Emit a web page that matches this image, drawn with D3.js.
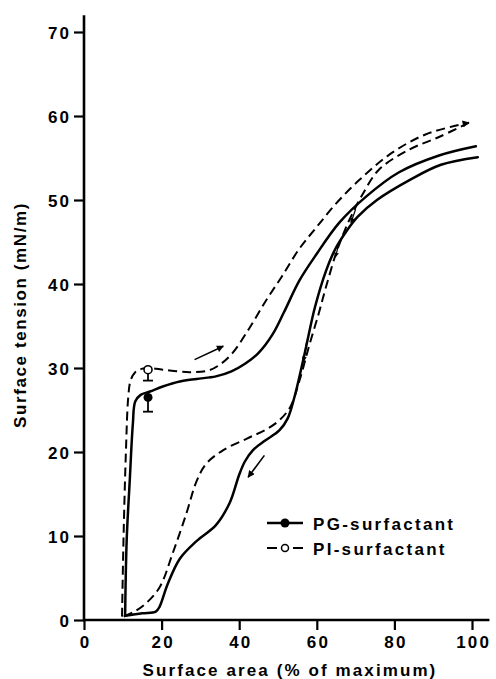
<!DOCTYPE html>
<html>
<head>
<meta charset="utf-8">
<script src="https://cdn.jsdelivr.net/npm/d3@7"></script>
<style>
  html, body { margin: 0; padding: 0; background: #fff; }
  svg { display: block; }
  text { font-family: "Liberation Sans", Arial, Helvetica, sans-serif; font-weight: bold; fill: #000; }
</style>
</head>
<body>
<svg id="chart" width="496" height="679"></svg>
<script>
// ---------------- data ----------------
const xTicks = [0, 20, 40, 60, 80, 100];
const yTicks = [0, 10, 20, 30, 40, 50, 60, 70];
const xTitle = "Surface area (% of maximum)";
const yTitle = "Surface tension (mN/m)";
const seriesNames = ["PG-surfactant", "PI-surfactant"];

// PG-surfactant (solid): compression branch (from max area down to min)
const pgCompression = [
  [101.5, 55.1], [92, 54.2], [84, 52.4], [75.5, 50.0], [70.5, 48.0], [67.5, 46.2],
  [64.8, 44.2], [62.4, 41.6], [59.5, 37.2], [57, 32.0], [54.5, 27.0], [52.5, 24.0],
  [50.4, 22.6], [46.5, 21.3], [43.5, 20.2], [41.5, 18.9], [40, 17.3], [37.5, 13.9],
  [34, 11.3], [29, 9.4], [24.7, 7.3], [21.5, 4.2], [19.5, 1.6], [18.5, 1.0], [15, 0.8], [10.6, 0.5]
];
// PG-surfactant (solid): expansion branch (from min area back to max)
const pgExpansion = [
  [10.6, 0.5], [11.0, 9.5], [11.8, 16.7], [12.6, 23.4], [13.2, 26.0], [14.6, 26.8],
  [17, 27.2], [20.3, 27.8], [24.7, 28.4], [29, 28.7], [34, 29.0], [38, 29.6], [41.5, 30.5],
  [45, 31.8], [48.6, 34.0], [51.5, 36.6], [55.5, 40.4], [60, 43.6], [65.8, 47.3],
  [72.7, 50.4], [81.2, 53.3], [91.5, 55.3], [101, 56.4]
];
// PI-surfactant (dashed): compression branch
const piCompression = [
  [99.2, 59.2], [91.5, 57.5], [83.8, 56.0], [76, 53.6], [71.7, 50.6], [69.2, 48.4],
  [67.4, 46.6], [65, 43.7], [62.4, 39.7], [60.5, 36.5], [58, 32.6], [55.6, 28.6],
  [53.2, 25.4], [50.4, 23.8], [47, 22.7], [42, 21.6], [35.8, 20.2], [31.5, 18.6],
  [29, 16.5], [26.4, 12.7], [22.9, 8.0], [19.5, 3.9], [16, 2.0], [13, 1.0], [10.2, 0.4]
];
// PI-surfactant (dashed): expansion branch
const piExpansion = [
  [9.8, 0.4], [10.2, 10], [10.8, 20], [11.4, 26.5], [12.0, 28.5], [13.2, 29.5],
  [14.8, 29.9], [16.5, 30.0], [20.3, 29.8], [27.2, 29.5], [32, 29.7], [35, 30.4],
  [38.3, 31.8], [42.7, 34.8], [47, 38.1], [51, 40.9], [55.5, 44.2], [60, 46.8],
  [65, 49.6], [71, 52.4], [78.7, 55.4], [88, 57.8], [99.2, 59.2]
];
// mean points with error bars (x, mean, end of bar)
const pgPoint = { x: 16.5, y: 26.5, err: 24.8 };
const piPoint = { x: 16.5, y: 29.8, err: 28.5 };
// direction arrows [from, to]
const arrowExpansion = [[28.5, 31.0], [35.9, 32.6]];
const arrowCompression = [[46.5, 19.6], [42.3, 17.0]];
// small arrowheads sitting on the compression branches [from, to]
const smallArrows = [
  [[70.0, 48.9], [68.8, 47.3]],
  [[65.8, 45.0], [64.8, 43.2]],
  [[57.4, 33.2], [56.6, 30.8]]
];

// ---------------- chart ----------------
const svg = d3.select("#chart");
const x = d3.scaleLinear().domain([0, 100]).range([84, 472]);
const y = d3.scaleLinear().domain([0, 70]).range([620, 32]);

const defs = svg.append("defs");
defs.append("marker").attr("id", "head")
  .attr("viewBox", "0 0 10 10").attr("refX", 9).attr("refY", 5)
  .attr("markerWidth", 9).attr("markerHeight", 7).attr("markerUnits", "userSpaceOnUse")
  .attr("orient", "auto")
  .append("path").attr("d", "M0,0 L10,5 L0,10 Z").attr("fill", "#000");
defs.append("marker").attr("id", "smallhead")
  .attr("viewBox", "0 0 10 10").attr("refX", 9).attr("refY", 5)
  .attr("markerWidth", 7).attr("markerHeight", 5).attr("markerUnits", "userSpaceOnUse")
  .attr("orient", "auto")
  .append("path").attr("d", "M0,0 L10,5 L0,10 Z").attr("fill", "#000");

// axes
const LS = 2.2;
const yAxis = d3.axisLeft(y).tickValues(yTicks).tickSize(10).tickPadding(5);
const gy = svg.append("g").attr("transform", `translate(${x(0)},0)`).call(yAxis);
gy.select(".domain").remove();
gy.selectAll(".tick line").attr("stroke", "#000").attr("stroke-width", 2.2);
gy.selectAll(".tick text").style("font-size", "17px").style("letter-spacing", LS + "px")
  .attr("dx", LS).attr("dy", "0.36em");

const xAxis = d3.axisBottom(x).tickValues(xTicks).tickSize(10).tickPadding(6);
const gx = svg.append("g").attr("transform", `translate(0,${y(0)})`).call(xAxis);
gx.select(".domain").remove();
gx.selectAll(".tick line").attr("stroke", "#000").attr("stroke-width", 2.2);
gx.selectAll(".tick text").style("font-size", "17px").style("letter-spacing", LS + "px")
  .attr("dx", LS / 2).attr("dy", "0.72em");

// axis lines
svg.append("line").attr("x1", x(0)).attr("x2", x(0)).attr("y1", y(0) + 1).attr("y2", y(72))
  .attr("stroke", "#000").attr("stroke-width", 2.6);
svg.append("line").attr("x1", x(0) - 1).attr("x2", x(104.5)).attr("y1", y(0)).attr("y2", y(0))
  .attr("stroke", "#000").attr("stroke-width", 2.6);

// titles
svg.append("text").attr("x", (x(0) + x(100)) / 2 + 12).attr("y", 676)
  .attr("text-anchor", "middle").style("font-size", "17px").style("letter-spacing", "2.1px")
  .text(xTitle);
svg.append("text").attr("transform", `translate(26,${315}) rotate(-90)`)
  .attr("text-anchor", "middle").style("font-size", "17px").style("letter-spacing", "1.6px")
  .text(yTitle);

// curves
const line = d3.line().x(d => x(d[0])).y(d => y(d[1])).curve(d3.curveCatmullRom.alpha(0.5));
const solid = { stroke: "#000", "stroke-width": 2.5, fill: "none", "stroke-linecap": "round", "stroke-linejoin": "round" };
const dashed = { stroke: "#000", "stroke-width": 2, fill: "none", "stroke-dasharray": "9,5" };
function draw(data, style) {
  const p = svg.append("path").attr("d", line(data));
  Object.entries(style).forEach(([k, v]) => p.attr(k, v));
  return p;
}
draw(piCompression, dashed);
draw(piExpansion, dashed).attr("marker-end", "url(#head)");
draw(pgCompression, solid);
draw(pgExpansion, solid);

// error bars and points
function errBar(pt) {
  svg.append("line").attr("x1", x(pt.x)).attr("x2", x(pt.x)).attr("y1", y(pt.y)).attr("y2", y(pt.err))
    .attr("stroke", "#000").attr("stroke-width", 1.8);
  svg.append("line").attr("x1", x(pt.x) - 5).attr("x2", x(pt.x) + 5).attr("y1", y(pt.err)).attr("y2", y(pt.err))
    .attr("stroke", "#000").attr("stroke-width", 1.8);
}
errBar(pgPoint);
errBar(piPoint);
svg.append("circle").attr("cx", x(pgPoint.x)).attr("cy", y(pgPoint.y)).attr("r", 4.5).attr("fill", "#000");
svg.append("circle").attr("cx", x(piPoint.x)).attr("cy", y(piPoint.y)).attr("r", 4)
  .attr("fill", "#fff").attr("stroke", "#000").attr("stroke-width", 1.6);

// direction arrows
[arrowExpansion, arrowCompression].forEach(a => {
  svg.append("line").attr("x1", x(a[0][0])).attr("y1", y(a[0][1]))
    .attr("x2", x(a[1][0])).attr("y2", y(a[1][1]))
    .attr("stroke", "#000").attr("stroke-width", 1.6).attr("marker-end", "url(#head)");
});
smallArrows.forEach(a => {
  svg.append("line").attr("x1", x(a[0][0])).attr("y1", y(a[0][1]))
    .attr("x2", x(a[1][0])).attr("y2", y(a[1][1]))
    .attr("stroke", "#000").attr("stroke-width", 1.2).attr("marker-end", "url(#smallhead)");
});

// legend
const lg = svg.append("g");
const lx0 = 267, lx1 = 303, lxc = 285;
const ly = [523, 548];
lg.append("line").attr("x1", lx0).attr("x2", lx1).attr("y1", ly[0]).attr("y2", ly[0])
  .attr("stroke", "#000").attr("stroke-width", 2.5);
lg.append("circle").attr("cx", lxc).attr("cy", ly[0]).attr("r", 4.5).attr("fill", "#000");
lg.append("line").attr("x1", lx0).attr("x2", lx0 + 10).attr("y1", ly[1]).attr("y2", ly[1])
  .attr("stroke", "#000").attr("stroke-width", 2);
lg.append("line").attr("x1", lx1 - 10).attr("x2", lx1).attr("y1", ly[1]).attr("y2", ly[1])
  .attr("stroke", "#000").attr("stroke-width", 2);
lg.append("circle").attr("cx", lxc).attr("cy", ly[1]).attr("r", 3.5)
  .attr("fill", "#fff").attr("stroke", "#000").attr("stroke-width", 1.5);
seriesNames.forEach((n, i) => {
  lg.append("text").attr("x", 313).attr("y", ly[i] + 7)
    .style("font-size", "17px").style("letter-spacing", "2.3px").text(n);
});
</script>
</body>
</html>
